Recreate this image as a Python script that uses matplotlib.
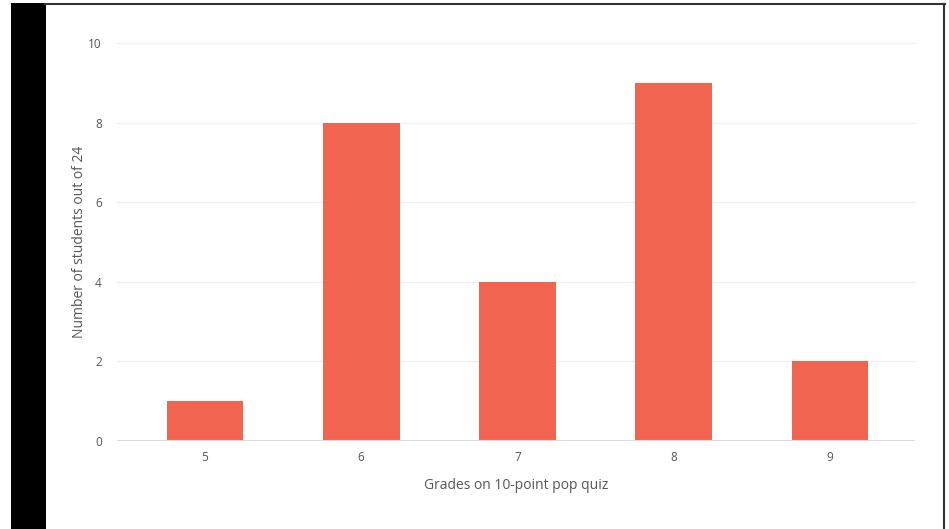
import matplotlib
matplotlib.use("Agg")
import matplotlib.pyplot as plt
from matplotlib.patches import Rectangle

# Data
grades = [5, 6, 7, 8, 9]
num_students = [1, 8, 4, 9, 2]
y_ticks = [0, 2, 4, 6, 8, 10]

bar_color = '#F06450'
text_color = '#555555'

plt.rcParams['font.family'] = ['Open Sans', 'DejaVu Sans']

fig = plt.figure(figsize=(9.49, 5.29), dpi=100)
W, H = 949, 529

# black band on the left and frame lines
fig.patches.append(Rectangle((11 / W, 0), 35 / W, 1 - 3 / H, transform=fig.transFigure,
                             facecolor='black', edgecolor='none', zorder=0))
fig.add_artist(plt.Line2D([45 / W, 945 / W], [1 - 4 / H, 1 - 4 / H], color='#333333', lw=1.5))
fig.add_artist(plt.Line2D([944 / W, 944 / W], [0, 1 - 4 / H], color='#333333', lw=1.5))

ax = fig.add_axes([117 / W, 1 - 441 / H, (915 - 117) / W, (441 - 43) / H])
ax.bar(grades, num_students, width=0.49, color=bar_color, zorder=2)

ax.set_xlim(4.437, 9.544)
ax.set_ylim(0, 10)
ax.set_xticks(grades)
ax.set_yticks(y_ticks)

for y in y_ticks[1:]:
    ax.axhline(y, color='#f0f0f0', lw=1, zorder=1, clip_on=False)
ax.axhline(0, color='#d9dce3', lw=1.5, zorder=3)

for s in ax.spines.values():
    s.set_visible(False)
ax.tick_params(length=0, labelsize=8.5, colors=text_color)
ax.tick_params(axis='y', pad=11)
ax.tick_params(axis='x', pad=7)

ax.set_xlabel('Grades on 10-point pop quiz', fontsize=10, color=text_color, labelpad=10)
ax.set_ylabel('Number of students out of 24', fontsize=10, color=text_color, labelpad=1)

fig.savefig('out.png', dpi=100)
